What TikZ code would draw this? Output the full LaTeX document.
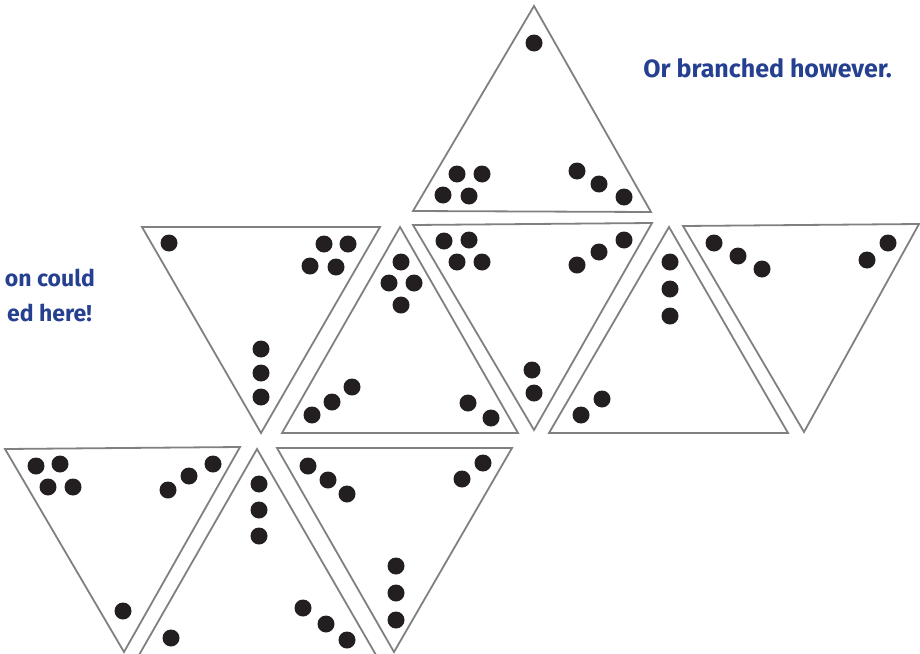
\documentclass[tikz,border=0pt]{standalone}
\usepackage{fontspec}
\setmainfont{Fira Sans}
\begin{document}
\begin{tikzpicture}[x=1pt,y=-1pt,
  tri/.style={draw={rgb,255:red,128;green,128;blue,128},line width=1.8pt,line join=miter},
  dotc/.style={fill={rgb,255:red,35;green,31;blue,32}},
  lbl/.style={inner sep=0pt,text={rgb,255:red,38;green,64;blue,145},font=\fontsize{25}{30}\selectfont\bfseries},
  sidelbl/.style={lbl,font=\fontsize{23}{28}\selectfont\bfseries}]
\useasboundingbox (0,0) rectangle (920,653);
% triangles
\draw[tri] (534,6) -- (651,212) -- (413,211) -- cycle;
\draw[tri] (142,227) -- (380,227) -- (261,433) -- cycle;
\draw[tri] (400,227) -- (518,433) -- (282,433) -- cycle;
\draw[tri] (413,225) -- (652,223) -- (534,430) -- cycle;
\draw[tri] (669,227) -- (788,433) -- (549,433) -- cycle;
\draw[tri] (683,226) -- (919,224) -- (804,432) -- cycle;
\draw[tri] (5,449) -- (240,447) -- (124,652) -- cycle;
\draw[tri] (257,449) -- (376,655) -- (139,655) -- cycle;
\draw[tri] (277,448) -- (512,448) -- (394,652) -- cycle;
% dots
\foreach \p in {(534,43),(457,174),(482,174),(443,195),(469,196),(577,171),(599,184),(624,197),
  (169,243),(324,244),(348,244),(310,266),(336,267),(261,349),(261,373),(261,397),
  (401,262),(389,283),(414,283),(401,305),(312,415),(332,402),(352,387),(468,403),(491,418),
  (444,241),(469,240),(457,262),(482,262),(577,265),(599,252),(624,240),(532,370),(534,393),
  (670,262),(670,289),(670,316),(581,415),(602,399),
  (714,243),(738,256),(762,269),(867,260),(888,243),
  (36,466),(60,464),(48,487),(73,487),(168,490),(189,476),(213,464),(123,611),
  (259,484),(259,510),(259,536),(171,638),(303,608),(326,624),(347,640),
  (308,466),(328,480),(347,494),(462,479),(483,463),(396,566),(396,593),(396,620)}
  \fill[dotc] \p circle (8.5);
% labels
\node[lbl,anchor=base east] (t1) at (892,77) {Or branched however.};
\node[sidelbl,anchor=base east] (t2) at (95,286) {on could};
\node[sidelbl,anchor=base east] (t3) at (92,321) {ed here!};
\end{tikzpicture}
\end{document}
